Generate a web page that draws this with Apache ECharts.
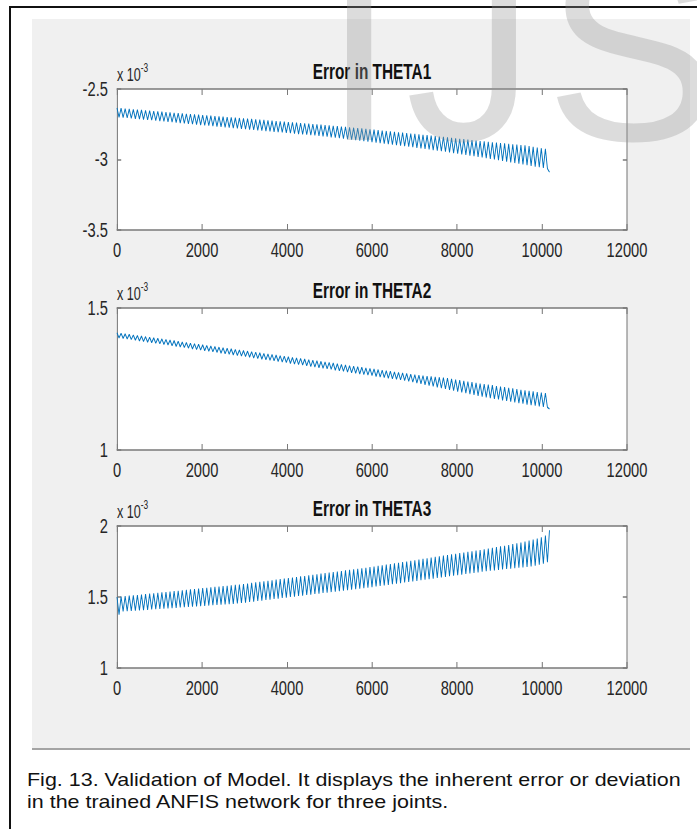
<!DOCTYPE html>
<html><head><meta charset="utf-8">
<script src="https://cdn.jsdelivr.net/npm/echarts@6/dist/echarts.min.js"></script>
<style>
html,body{margin:0;padding:0;background:#fff;width:697px;height:829px;overflow:hidden;position:relative;}
#frame{position:absolute;left:9px;top:6px;width:720px;height:860px;border-left:2px solid #111;border-top:2px solid #111;}
#panel{position:absolute;left:32px;top:19px;width:658px;height:729px;background:#f0f0f0;border-bottom:2px solid #a4a4a4;overflow:hidden;}
#chart{position:absolute;left:0;top:0;width:940px;height:729px;transform:scaleX(0.7);transform-origin:0 0;}
#caption{position:absolute;left:27px;top:769px;font-family:'Liberation Sans',Arial,sans-serif;font-size:19px;line-height:22px;color:#111;white-space:nowrap;transform:scaleX(1.13);transform-origin:0 0;}
#wm{position:absolute;left:323px;top:-80px;font-family:'Liberation Sans',Arial,sans-serif;font-size:260px;line-height:1;color:rgba(150,150,150,0.33);white-space:nowrap;letter-spacing:10px;pointer-events:none;z-index:10;}
</style></head>
<body>
<div id="frame"></div>
<div id="panel"><div id="chart"></div></div>
<div id="caption">Fig. 13. Validation of Model. It displays the inherent error or deviation<br>in the trained ANFIS network for three joints.</div>
<div id="wm">IJS</div>
<script>
// sample spacing along the x axis (iterations between a peak and the next trough)
const X_STEP = 48;
const X_TICKS = [0, 2000, 4000, 6000, 8000, 10000, 12000];
const TITLES = ['Error in THETA1', 'Error in THETA2', 'Error in THETA3'];
const Y_RANGES = [[-3.5, -2.5], [1, 1.5], [1, 2]];

// values in units of 1e-3
const theta1Peaks = [
-2.635,-2.637,-2.640,-2.642,-2.645,-2.647,-2.649,-2.652,-2.654,-2.657,
-2.659,-2.661,-2.664,-2.666,-2.669,-2.671,-2.673,-2.676,-2.678,-2.681,
-2.683,-2.685,-2.688,-2.690,-2.692,-2.695,-2.697,-2.699,-2.702,-2.704,
-2.706,-2.709,-2.711,-2.713,-2.716,-2.718,-2.720,-2.723,-2.725,-2.728,
-2.730,-2.732,-2.735,-2.737,-2.739,-2.742,-2.744,-2.746,-2.749,-2.751,
-2.753,-2.756,-2.759,-2.761,-2.764,-2.767,-2.769,-2.772,-2.775,-2.777,
-2.780,-2.783,-2.786,-2.789,-2.792,-2.795,-2.798,-2.801,-2.804,-2.807,
-2.810,-2.813,-2.816,-2.819,-2.822,-2.825,-2.828,-2.831,-2.834,-2.837,
-2.840,-2.843,-2.846,-2.850,-2.853,-2.856,-2.859,-2.862,-2.866,-2.869,
-2.872,-2.875,-2.878,-2.880,-2.883,-2.886,-2.889,-2.892,-2.894,-2.897,
-2.900,-2.905,-2.910,-2.915,-2.920,-2.925];
const theta1Troughs = [
-2.700,-2.703,-2.705,-2.708,-2.711,-2.713,-2.716,-2.719,-2.721,-2.724,
-2.727,-2.730,-2.733,-2.735,-2.738,-2.741,-2.744,-2.747,-2.749,-2.752,
-2.755,-2.758,-2.760,-2.763,-2.766,-2.768,-2.771,-2.774,-2.777,-2.779,
-2.782,-2.785,-2.787,-2.790,-2.793,-2.795,-2.798,-2.800,-2.803,-2.806,
-2.808,-2.811,-2.813,-2.816,-2.819,-2.821,-2.824,-2.827,-2.829,-2.832,
-2.835,-2.838,-2.842,-2.845,-2.849,-2.852,-2.856,-2.859,-2.863,-2.866,
-2.870,-2.873,-2.877,-2.880,-2.884,-2.887,-2.891,-2.894,-2.898,-2.901,
-2.905,-2.909,-2.913,-2.917,-2.921,-2.925,-2.929,-2.933,-2.937,-2.941,
-2.945,-2.949,-2.954,-2.958,-2.963,-2.967,-2.972,-2.976,-2.981,-2.985,
-2.990,-2.995,-3.000,-3.005,-3.010,-3.015,-3.020,-3.025,-3.030,-3.035,
-3.040,-3.045,-3.050,-3.055,-3.060,-3.065];
const theta1End = -3.090;

const theta2Peaks = [
1.413,1.411,1.409,1.407,1.405,1.403,1.401,1.399,1.397,1.395,
1.393,1.391,1.389,1.387,1.385,1.383,1.380,1.378,1.376,1.374,
1.372,1.370,1.368,1.366,1.364,1.362,1.360,1.358,1.356,1.354,
1.352,1.350,1.348,1.346,1.344,1.342,1.340,1.338,1.336,1.334,
1.332,1.330,1.328,1.326,1.324,1.322,1.320,1.318,1.316,1.314,
1.312,1.310,1.308,1.306,1.304,1.301,1.299,1.297,1.295,1.293,
1.291,1.289,1.287,1.285,1.283,1.281,1.279,1.277,1.275,1.273,
1.271,1.269,1.267,1.265,1.263,1.262,1.260,1.259,1.257,1.256,
1.255,1.253,1.250,1.248,1.246,1.243,1.241,1.239,1.236,1.234,
1.232,1.230,1.228,1.225,1.223,1.221,1.219,1.217,1.214,1.212,
1.210,1.208,1.206,1.204,1.202,1.200];
const theta2Troughs = [
1.395,1.393,1.391,1.389,1.387,1.384,1.382,1.380,1.378,1.376,
1.374,1.372,1.370,1.367,1.365,1.363,1.361,1.359,1.356,1.354,
1.352,1.350,1.348,1.346,1.344,1.341,1.339,1.337,1.335,1.333,
1.331,1.329,1.327,1.324,1.322,1.320,1.318,1.316,1.314,1.312,
1.310,1.308,1.305,1.303,1.301,1.299,1.297,1.294,1.292,1.290,
1.288,1.286,1.284,1.281,1.279,1.277,1.275,1.272,1.270,1.268,
1.266,1.264,1.262,1.259,1.257,1.255,1.253,1.251,1.249,1.247,
1.245,1.242,1.239,1.236,1.233,1.230,1.227,1.224,1.221,1.218,
1.215,1.212,1.209,1.206,1.203,1.200,1.197,1.194,1.191,1.188,
1.185,1.183,1.180,1.178,1.175,1.173,1.170,1.168,1.165,1.163,
1.160,1.158,1.156,1.154,1.152,1.150];
const theta2End = 1.145;

const theta3Peaks = [
1.500,1.503,1.506,1.509,1.511,1.514,1.517,1.520,1.523,1.526,
1.529,1.532,1.535,1.538,1.541,1.544,1.547,1.550,1.553,1.556,
1.559,1.562,1.565,1.568,1.571,1.573,1.576,1.579,1.582,1.585,
1.588,1.591,1.595,1.599,1.603,1.606,1.610,1.614,1.618,1.622,
1.626,1.629,1.633,1.637,1.641,1.645,1.648,1.652,1.656,1.660,
1.664,1.668,1.672,1.675,1.679,1.683,1.687,1.691,1.695,1.698,
1.702,1.706,1.710,1.714,1.719,1.723,1.728,1.732,1.737,1.741,
1.746,1.750,1.755,1.759,1.764,1.768,1.773,1.777,1.782,1.786,
1.791,1.795,1.800,1.804,1.809,1.813,1.818,1.822,1.827,1.831,
1.836,1.841,1.846,1.851,1.856,1.861,1.866,1.872,1.878,1.884,
1.890,1.897,1.904,1.912,1.921,1.932];
const theta3Troughs = [
1.375,1.398,1.400,1.402,1.404,1.406,1.408,1.410,1.412,1.414,
1.416,1.418,1.420,1.422,1.424,1.426,1.428,1.430,1.432,1.434,
1.436,1.438,1.440,1.442,1.444,1.446,1.448,1.450,1.452,1.455,
1.458,1.461,1.465,1.468,1.472,1.475,1.479,1.482,1.486,1.489,
1.493,1.496,1.500,1.503,1.507,1.510,1.514,1.517,1.521,1.524,
1.528,1.531,1.535,1.538,1.542,1.545,1.549,1.552,1.556,1.559,
1.563,1.566,1.570,1.574,1.578,1.582,1.586,1.590,1.594,1.598,
1.602,1.606,1.610,1.614,1.618,1.622,1.626,1.630,1.634,1.638,
1.642,1.646,1.650,1.654,1.658,1.662,1.666,1.670,1.674,1.678,
1.682,1.685,1.688,1.691,1.694,1.697,1.700,1.703,1.706,1.709,
1.712,1.716,1.721,1.727,1.734,1.745];
const theta3End = 1.970;

function buildSeries(peaks, troughs, endVal) {
  const vals = [];
  for (let k = 0; k < peaks.length; k++) { vals.push(peaks[k]); vals.push(troughs[k]); }
  vals.push(endVal);
  return vals.map((v, i) => [i * X_STEP, v]);
}
const seriesData = [
  buildSeries(theta1Peaks, theta1Troughs, theta1End),
  buildSeries(theta2Peaks, theta2Troughs, theta2End),
  buildSeries(theta3Peaks, theta3Troughs, theta3End)
];

const SX = 0.7;
const FONT = "'Liberation Sans', Arial, Helvetica, sans-serif";
const AX_COLOR = '#7a7a7a';
const TXT = '#262626';
const gridLeft = (117 - 32) / SX, gridWidth = 510 / SX;
const gridTops = [70, 289, 507], gridHeights = [141, 142, 142];
const plain = v => String(v);

const grids = [], xAxes = [], yAxes = [], titles = [], series = [];
for (let i = 0; i < 3; i++) {
  grids.push({left: gridLeft, top: gridTops[i], width: gridWidth, height: gridHeights[i], backgroundColor: '#fff', show: true, borderWidth: 0});
  const xCommon = {type: 'value', gridIndex: i, min: X_TICKS[0], max: X_TICKS[X_TICKS.length - 1], interval: 2000, splitLine: {show: false},
    axisLine: {show: true, onZero: false, lineStyle: {color: AX_COLOR, width: 1.5}},
    axisTick: {show: true, inside: true, length: 6, lineStyle: {color: AX_COLOR, width: 1.5}}};
  xAxes.push(Object.assign({}, xCommon, {position: 'bottom',
    axisLabel: {show: true, margin: 10, formatter: plain, fontFamily: FONT, fontSize: 21, color: TXT}}));
  xAxes.push(Object.assign({}, xCommon, {position: 'top', axisLabel: {show: false}}));
  const yCommon = {type: 'value', gridIndex: i, min: Y_RANGES[i][0], max: Y_RANGES[i][1], interval: 0.5, splitLine: {show: false},
    axisLine: {show: true, onZero: false, lineStyle: {color: AX_COLOR, width: 1.5}},
    axisTick: {show: true, inside: true, length: 6, lineStyle: {color: AX_COLOR, width: 1.5}}};
  yAxes.push(Object.assign({}, yCommon, {position: 'left',
    axisLabel: {show: true, margin: 13, formatter: plain, fontFamily: FONT, fontSize: 21, color: TXT},
    name: '{a|x 10}{b|-3}', nameLocation: 'end', nameGap: 5,
    nameTextStyle: {align: 'left', verticalAlign: 'bottom', fontFamily: FONT, color: TXT,
      rich: {a: {fontSize: 18, fontFamily: FONT, color: TXT, lineHeight: 22, verticalAlign: 'bottom'},
             b: {fontSize: 12, fontFamily: FONT, color: TXT, lineHeight: 22, verticalAlign: 'top'}}}}));
  yAxes.push(Object.assign({}, yCommon, {position: 'right', axisLabel: {show: false}}));
  titles.push({text: TITLES[i], left: gridLeft + gridWidth / 2, textAlign: 'center', top: gridTops[i] - 29, padding: 0,
    textStyle: {fontFamily: FONT, fontSize: 22, fontWeight: 'bold', color: '#111'}});
  series.push({type: 'line', xAxisIndex: 2 * i, yAxisIndex: 2 * i, data: seriesData[i], showSymbol: false, symbol: 'none',
    lineStyle: {color: '#0072BD', width: 1.3}, animation: false});
}

const chart = echarts.init(document.getElementById('chart'), null, {renderer: 'svg'});
chart.setOption({
  backgroundColor: 'transparent',
  animation: false,
  title: titles,
  grid: grids,
  xAxis: xAxes,
  yAxis: yAxes,
  series: series
});
</script>
</body></html>
